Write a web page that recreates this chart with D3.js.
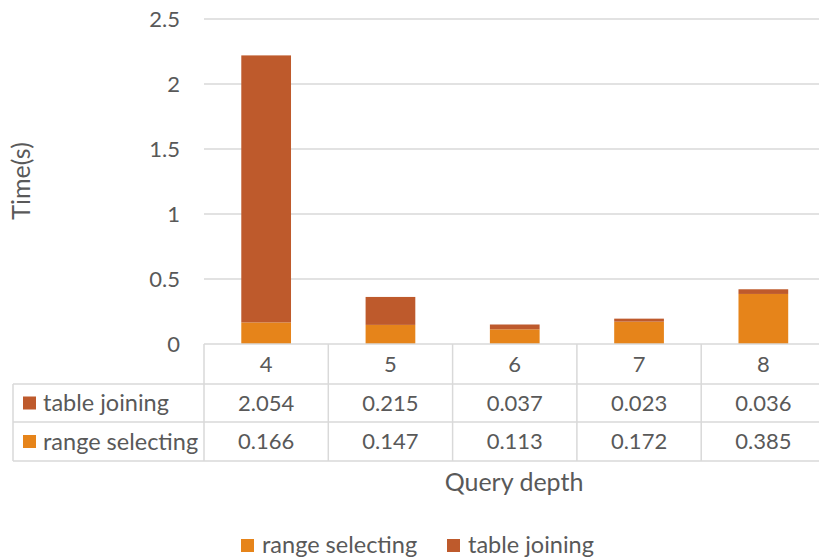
<!DOCTYPE html>
<html>
<head>
<meta charset="utf-8">
<script src="https://cdn.jsdelivr.net/npm/d3@7"></script>
<style>
  html, body { margin: 0; padding: 0; background: #fff; }
  svg { display: block; }
  text { font-family: Lato, "Open Sans", sans-serif; fill: #595959; }
</style>
</head>
<body>
<svg id="chart" width="819" height="557"></svg>
<script>
// Query depth categories and the two stacked components (seconds)
const depths = ["4", "5", "6", "7", "8"];
const rangeSelecting = [0.166, 0.147, 0.113, 0.172, 0.385];
const tableJoining = [2.054, 0.215, 0.037, 0.023, 0.036];
const yTicks = [0, 0.5, 1, 1.5, 2, 2.5];
const seriesNames = ["range selecting", "table joining"];
const seriesColors = ["#E6841A", "#BE5A2C"];

const svg = d3.select("#chart");
const gridColor = "#d9d9d9";

const plotLeft = 204, plotRight = 825.5;
const y0 = 344, yTop = 19;

const x = d3.scaleBand().domain(depths).range([plotLeft, plotRight]).padding(0);
const y = d3.scaleLinear().domain([0, 2.5]).range([y0, yTop]);

// Horizontal gridlines
svg.append("g").selectAll("line")
  .data(yTicks.filter(t => t > 0))
  .join("line")
  .attr("x1", plotLeft).attr("x2", plotRight)
  .attr("y1", d => y(d)).attr("y2", d => y(d))
  .attr("stroke", gridColor).attr("stroke-width", 1.3);

// Y axis tick labels
const yAxis = d3.axisLeft(y).tickValues(yTicks).tickSize(0).tickPadding(0)
  .tickFormat(d => d3.format("")(d));
const yg = svg.append("g").attr("transform", `translate(180,0)`).call(yAxis);
yg.select(".domain").remove();
yg.selectAll("text").attr("font-size", 22).attr("dy", "0.35em")
  .style("font-family", "Lato, 'Open Sans', sans-serif").attr("fill", "#595959");

// Y axis title
svg.append("text")
  .attr("transform", "translate(30,181) rotate(-90)")
  .attr("text-anchor", "middle")
  .attr("font-size", 25)
  .text("Time(s)");

// Stacked bars
const rows = depths.map((d, i) => ({ depth: d, range: rangeSelecting[i], join: tableJoining[i] }));
const stack = d3.stack().keys(["range", "join"])(rows);
const barW = x.bandwidth() * 0.4;

svg.append("g").selectAll("g")
  .data(stack)
  .join("g")
  .attr("fill", (d, i) => seriesColors[i])
  .selectAll("rect")
  .data(d => d)
  .join("rect")
  .attr("x", d => x(d.data.depth) + (x.bandwidth() - barW) / 2)
  .attr("width", barW)
  .attr("y", d => y(d[1]))
  .attr("height", d => y(d[0]) - y(d[1]));

// Data table
const tableLeft = 13;
const rowLines = [344, 384, 422, 461];
const t = svg.append("g").attr("stroke", gridColor).attr("stroke-width", 1.5);
t.append("line").attr("x1", plotLeft).attr("x2", plotRight).attr("y1", rowLines[0]).attr("y2", rowLines[0]);
rowLines.slice(1).forEach(yy => {
  t.append("line").attr("x1", tableLeft).attr("x2", plotRight).attr("y1", yy).attr("y2", yy);
});
t.append("line").attr("x1", tableLeft).attr("x2", tableLeft).attr("y1", rowLines[1]).attr("y2", rowLines[3]);
depths.forEach(d => {
  t.append("line").attr("x1", x(d)).attr("x2", x(d)).attr("y1", rowLines[0]).attr("y2", rowLines[3]);
});
t.append("line").attr("x1", plotRight).attr("x2", plotRight).attr("y1", rowLines[0]).attr("y2", rowLines[3]);

// Header row: categories
svg.append("g").selectAll("text")
  .data(depths)
  .join("text")
  .attr("x", d => x(d) + x.bandwidth() / 2)
  .attr("y", (rowLines[0] + rowLines[1]) / 2)
  .attr("dy", "0.35em")
  .attr("text-anchor", "middle")
  .attr("font-size", 22)
  .text(d => d);

// Value rows: table joining on top, range selecting below
const tableRows = [
  { name: seriesNames[1], color: seriesColors[1], values: tableJoining },
  { name: seriesNames[0], color: seriesColors[0], values: rangeSelecting }
];
tableRows.forEach((r, ri) => {
  const cy = (rowLines[ri + 1] + rowLines[ri + 2]) / 2;
  svg.append("rect").attr("x", 23).attr("y", cy - 6.5).attr("width", 13).attr("height", 13).attr("fill", r.color);
  svg.append("text").attr("x", 43).attr("y", cy).attr("dy", "0.35em")
    .attr("font-size", 23.5).text(r.name);
  svg.append("g").selectAll("text")
    .data(r.values.map((v, i) => ({ v, d: depths[i] })))
    .join("text")
    .attr("x", d => x(d.d) + x.bandwidth() / 2)
    .attr("y", cy).attr("dy", "0.35em")
    .attr("text-anchor", "middle")
    .attr("font-size", 22)
    .text(d => d3.format(".3f")(d.v));
});

// X axis title
svg.append("text")
  .attr("x", 514).attr("y", 491)
  .attr("text-anchor", "middle")
  .attr("font-size", 25)
  .text("Query depth");

// Legend
const legend = svg.append("g");
const legendItems = [
  { name: seriesNames[0], color: seriesColors[0], x: 241 },
  { name: seriesNames[1], color: seriesColors[1], x: 447 }
];
legendItems.forEach(it => {
  legend.append("rect").attr("x", it.x).attr("y", 539).attr("width", 13).attr("height", 13).attr("fill", it.color);
  legend.append("text").attr("x", it.x + 21).attr("y", 545).attr("dy", "0.35em")
    .attr("font-size", 23.5).text(it.name);
});
</script>
</body>
</html>
